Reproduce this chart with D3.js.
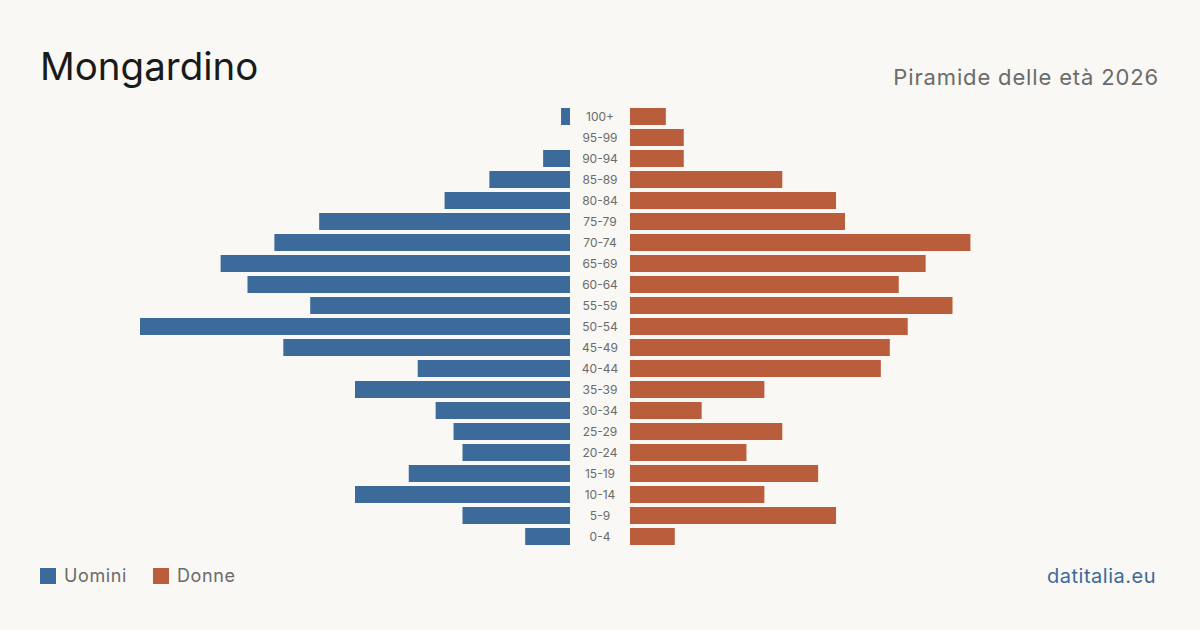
<!DOCTYPE html>
<html>
<head>
<meta charset="utf-8">
<script src="https://cdn.jsdelivr.net/npm/d3@7"></script>
<style>
  body { margin: 0; background: #f9f8f4; }
  svg { display: block; font-family: Inter, "Noto Sans", sans-serif; }
</style>
</head>
<body>
<div id="chart"></div>
<script>
const ages = ["100+", "95-99", "90-94", "85-89", "80-84", "75-79", "70-74", "65-69", "60-64", "55-59",
              "50-54", "45-49", "40-44", "35-39", "30-34", "25-29", "20-24", "15-19", "10-14", "5-9", "0-4"];
const uomini = [1, 0, 3, 9, 14, 28, 33, 39, 36, 29, 48, 32, 17, 24, 15, 13, 12, 18, 24, 12, 5];
const donne  = [4, 6, 6, 17, 23, 24, 38, 33, 30, 36, 31, 29, 28, 15, 8, 17, 13, 21, 15, 23, 5];

const W = 1200, H = 630;
const center = 600, gap = 30, half = 430;
const colM = "#3b6a9b", colF = "#b95d3d";

const svg = d3.select("#chart").append("svg")
  .attr("width", W).attr("height", H);

svg.append("rect").attr("width", W).attr("height", H).attr("fill", "#f9f8f4");

// title
svg.append("text").attr("x", 40).attr("y", 80)
  .attr("font-size", 38.5).attr("fill", "#1a1a1a")
  .text("Mongardino");

svg.append("text").attr("x", 1159).attr("y", 85)
  .attr("text-anchor", "end").attr("font-size", 22).attr("fill", "#6b6b6b")
  .attr("letter-spacing", "0.85px")
  .text("Piramide delle età 2026");

const maxV = d3.max(uomini.concat(donne));
const x = d3.scaleLinear().domain([0, maxV]).range([0, half]);
const y = d3.scaleBand().domain(ages).range([106, 547]).paddingInner(4 / 21).paddingOuter(2 / 21);

const rows = ages.map((a, i) => ({age: a, m: uomini[i], f: donne[i]}));

svg.append("g").selectAll("rect")
  .data(rows)
  .join("rect")
    .attr("x", d => center - gap - x(d.m))
    .attr("y", d => y(d.age))
    .attr("width", d => x(d.m))
    .attr("height", y.bandwidth())
    .attr("fill", colM);

svg.append("g").selectAll("rect")
  .data(rows)
  .join("rect")
    .attr("x", center + gap)
    .attr("y", d => y(d.age))
    .attr("width", d => x(d.f))
    .attr("height", y.bandwidth())
    .attr("fill", colF);

svg.append("g").selectAll("text")
  .data(rows)
  .join("text")
    .attr("x", center)
    .attr("y", d => y(d.age) + y.bandwidth() / 2)
    .attr("dy", "0.35em")
    .attr("text-anchor", "middle")
    .attr("font-size", 12)
    .attr("fill", "#6b6b6b")
    .text(d => d.age);

// legend
const legend = [{label: "Uomini", c: colM, x: 40}, {label: "Donne", c: colF, x: 153}];
const lg = svg.append("g").selectAll("g").data(legend).join("g")
  .attr("transform", d => `translate(${d.x}, 568)`);
lg.append("rect").attr("width", 16).attr("height", 16).attr("fill", d => d.c);
lg.append("text").attr("x", 24).attr("y", 8).attr("dy", "0.35em")
  .attr("font-size", 18).attr("letter-spacing", "0.6px")
  .attr("fill", "#6b6b6b").text(d => d.label);

svg.append("text").attr("x", 1156).attr("y", 583)
  .attr("text-anchor", "end").attr("font-size", 20).attr("letter-spacing", "0.5px")
  .attr("fill", "#3b6a9b")
  .text("datitalia.eu");
</script>
</body>
</html>
